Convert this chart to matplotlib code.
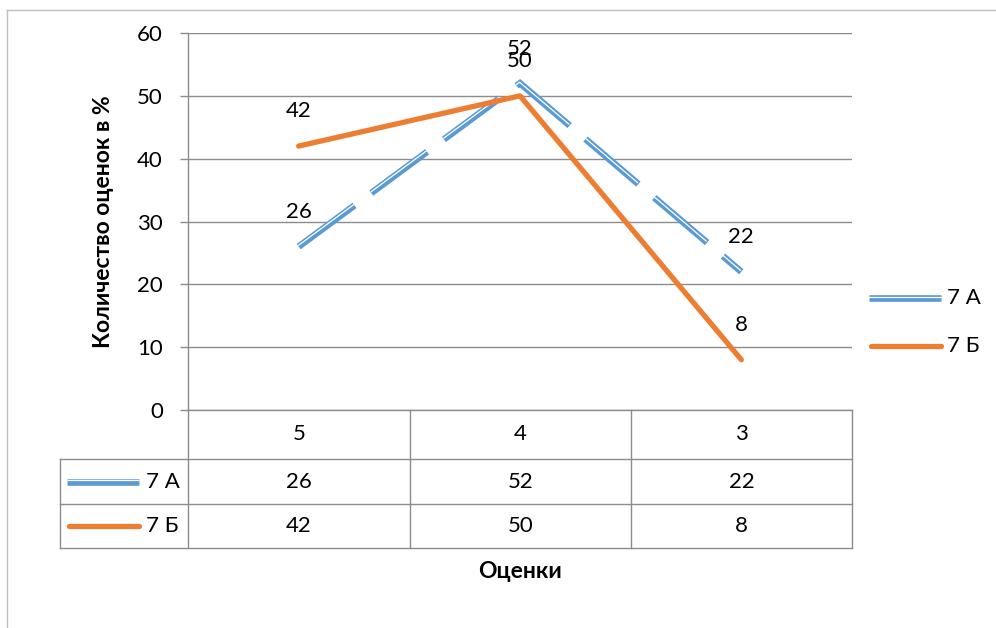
import matplotlib.pyplot as plt
from matplotlib.lines import Line2D
from matplotlib.transforms import offset_copy

# Grades (categories) and share of each grade, per class
grades = ['5', '4', '3']
class_a = [26, 52, 22]
class_b = [42, 50, 8]
series_names = ['7 А', '7 Б']

BLUE = '#5B9BD5'
ORANGE = '#ED7D31'
GRID = '#8C8C8C'
FONT = 'Lato'
FS = 16
FS_TITLE = 16.5

W, H = 996, 628

plt.rcParams['font.family'] = [FONT, 'DejaVu Sans']
plt.rcParams['lines.scale_dashes'] = False

fig = plt.figure(figsize=(W / 100, H / 100), dpi=100)


def fx(x):
    return x / W


def fy(y):
    return 1 - y / H


# plot area in pixel coordinates
left, right, top, bottom = 188, 852, 33, 410
ax = fig.add_axes([fx(left), fy(bottom), fx(right - left), (bottom - top) / H])
ax.set_xlim(0, 3)
ax.set_ylim(0, 60)
ax.set_yticks(range(0, 61, 10))
ax.set_xticks([])
for s in ['top', 'right', 'bottom']:
    ax.spines[s].set_visible(False)
ax.spines['left'].set_color(GRID)
ax.spines['left'].set_linewidth(1)
ax.grid(axis='y', color=GRID, linewidth=1)
ax.tick_params(axis='y', length=6, width=1, color=GRID, labelsize=FS, pad=12)

xs = [i + 0.5 for i in range(len(grades))]

# 7 А: long-dash compound line (blue with thin white stripe)
dash = (0, (50, 15))
ax.plot(xs, class_a, color=BLUE, linewidth=4.8, linestyle=dash,
        solid_joinstyle='miter', dash_joinstyle='miter', dash_capstyle='butt',
        clip_on=False, zorder=3)
ax.plot(xs, class_a, color='white', linewidth=0.9, linestyle=dash,
        dash_joinstyle='miter', dash_capstyle='butt', clip_on=False, zorder=3,
        transform=offset_copy(ax.transData, fig=fig, x=-0.3, y=0.8, units='points'))

# 7 Б: solid orange line
ax.plot(xs, class_b, color=ORANGE, linewidth=3.8, solid_capstyle='round',
        solid_joinstyle='round', clip_on=False, zorder=4)

for vals in (class_a, class_b):
    for x, v in zip(xs, vals):
        ax.annotate(str(v), (x, v), xytext=(0, 25), textcoords='offset points',
                    ha='center', va='center', fontsize=FS, zorder=5)

ax.set_ylabel('Количество оценок в %', fontsize=FS_TITLE, fontweight='bold', labelpad=17)

# data table under the plot
col_edges = [left, 410, 631, right]
row_edges = [410, 459, 504, 548]
tab_left = 60


def hline(x0, x1, y):
    fig.add_artist(Line2D([fx(x0), fx(x1)], [fy(y), fy(y)], color=GRID, linewidth=1))


def vline(x, y0, y1):
    fig.add_artist(Line2D([fx(x), fx(x)], [fy(y0), fy(y1)], color=GRID, linewidth=1))


hline(left, right, row_edges[0])
for y in row_edges[1:]:
    hline(tab_left, right, y)
vline(tab_left, row_edges[1], row_edges[3])
for x in col_edges:
    vline(x, row_edges[0], row_edges[3])

col_centers = [(a + b) / 2 for a, b in zip(col_edges[:-1], col_edges[1:])]
row_centers = [(a + b) / 2 for a, b in zip(row_edges[:-1], row_edges[1:])]

for cx, g in zip(col_centers, grades):
    fig.text(fx(cx), fy(row_centers[0]), g, ha='center', va='center', fontsize=FS)
for ri, vals in enumerate((class_a, class_b), start=1):
    for cx, v in zip(col_centers, vals):
        fig.text(fx(cx), fy(row_centers[ri]), str(v), ha='center', va='center', fontsize=FS)


def legend_key(x0, x1, y, color, compound):
    if compound:
        fig.add_artist(Line2D([fx(x0), fx(x1)], [fy(y), fy(y)], color=color,
                              linewidth=4.8, solid_capstyle='butt'))
        fig.add_artist(Line2D([fx(x0), fx(x1)], [fy(y - 1.2), fy(y - 1.2)],
                              color='white', linewidth=0.9, solid_capstyle='butt'))
    else:
        fig.add_artist(Line2D([fx(x0 + 2), fx(x1 - 2)], [fy(y), fy(y)], color=color,
                              linewidth=3.8, solid_capstyle='round'))


# legend keys inside the table
legend_key(67, 139, row_centers[1], BLUE, True)
legend_key(67, 141, row_centers[2], ORANGE, False)
fig.text(fx(146), fy(row_centers[1]), series_names[0], ha='left', va='center', fontsize=FS)
fig.text(fx(146), fy(row_centers[2]), series_names[1], ha='left', va='center', fontsize=FS)

# legend at the right
legend_key(869, 941, 298, BLUE, True)
legend_key(869, 943, 346, ORANGE, False)
fig.text(fx(947), fy(298), series_names[0], ha='left', va='center', fontsize=FS)
fig.text(fx(947), fy(346), series_names[1], ha='left', va='center', fontsize=FS)

fig.text(fx(520), fy(571), 'Оценки', ha='center', va='center', fontsize=FS_TITLE,
         fontweight='bold')

# chart frame
fig.add_artist(Line2D([fx(7), fx(7)], [fy(10), 0], color='#BFBFBF', linewidth=1))
fig.add_artist(Line2D([fx(7), 1], [fy(10), fy(10)], color='#BFBFBF', linewidth=1))

fig.savefig('out.png', dpi=100)
